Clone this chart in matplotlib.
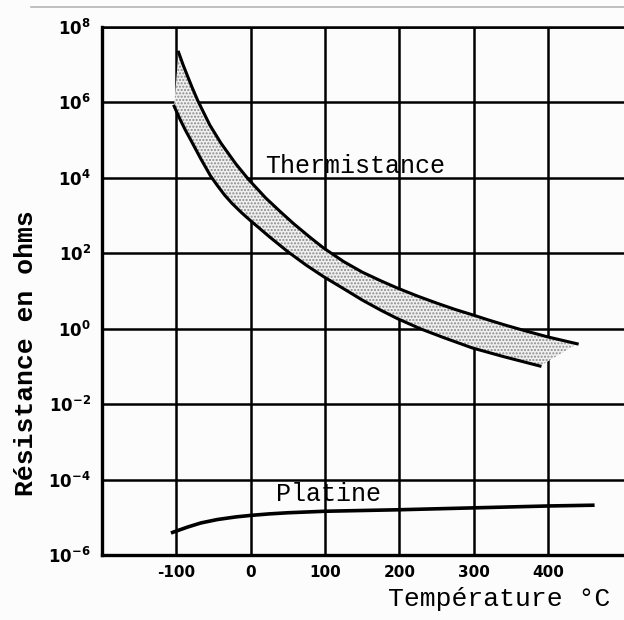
import numpy as np
import matplotlib.pyplot as plt
from matplotlib.lines import Line2D

# thermistance: bord haut et bord bas de la bande (T en degC, log10 de R en ohms)
therm_haut_T = [-97, -91, -85, -78, -71, -55, -40, -20, -3, 20, 40, 58, 80, 98,
                125, 150, 175, 197, 225, 250, 275, 298, 320, 345, 370, 400, 439]
therm_haut_logR = [7.33, 7.0, 6.7, 6.36, 6.04, 5.4, 4.92, 4.37, 3.96, 3.47, 3.1, 2.78, 2.42, 2.14,
                   1.78, 1.5, 1.27, 1.08, 0.86, 0.68, 0.51, 0.37, 0.23, 0.08, -0.06, -0.22, -0.4]
therm_bas_T = [-103, -95, -88, -80, -67, -54, -45, -35, -25, -12, 0, 25, 50, 75, 98,
               125, 150, 175, 197, 228, 260, 298, 340, 389]
therm_bas_logR = [5.9, 5.55, 5.27, 4.98, 4.5, 4.05, 3.8, 3.54, 3.32, 3.07, 2.86, 2.44, 2.04, 1.68, 1.38,
                  1.06, 0.76, 0.49, 0.27, 0.0, -0.24, -0.51, -0.74, -0.99]

# platine
platine_T = [-105, -85, -67, -45, -20, 0, 25, 50, 100, 200, 300, 400, 460]
platine_logR = [-5.4, -5.26, -5.15, -5.06, -4.99, -4.95, -4.91, -4.88, -4.84, -4.8, -4.75, -4.7, -4.68]

xticks = [-100, 0, 100, 200, 300, 400]
y_exps = [8, 6, 4, 2, 0, -2, -4, -6]

mono = 'Liberation Mono'

fig = plt.figure(figsize=(6.24, 6.2), dpi=100)
fig.patch.set_facecolor('#fcfcfc')
ax = fig.add_axes([102/624, 1-555/620, 1-102/624, (555-27)/620])
ax.set_facecolor('#fcfcfc')

th_T = np.array(therm_haut_T)
th_R = 10.0**np.array(therm_haut_logR)
tb_T = np.array(therm_bas_T)
tb_R = 10.0**np.array(therm_bas_logR)
pl_T = np.array(platine_T)
pl_R = 10.0**np.array(platine_logR)

# bande pointillee entre les deux courbes
plt.rcParams['hatch.color'] = '#8a8a8a'
plt.rcParams['hatch.linewidth'] = 1.0
ax.fill(np.r_[th_T, tb_T[::-1]], np.r_[th_R, tb_R[::-1]],
        facecolor='#f0f0f0', edgecolor='#8a8a8a', hatch='.....', linewidth=0, zorder=2)

ax.plot(th_T, th_R, color='black', lw=2.2, zorder=4, solid_joinstyle='round')
ax.plot(tb_T, tb_R, color='black', lw=2.2, zorder=4, solid_joinstyle='round')
ax.plot(pl_T, pl_R, color='black', lw=2.6, zorder=4, solid_joinstyle='round')

ax.set_yscale('log')
ax.set_xlim(-200, 502)
ax.set_ylim(1e-6, 1e8)
ax.set_xticks(xticks)
ax.set_xticklabels([str(t) for t in xticks], fontsize=11, fontweight='bold')
ax.set_yticks([10.0**e for e in y_exps])
ax.set_yticklabels([r'$\mathbf{10^{%d}}$' % e for e in y_exps], fontsize=12)
ax.yaxis.set_minor_locator(plt.NullLocator())
ax.tick_params(length=0, pad=7)
ax.tick_params(axis='y', pad=8)

ax.grid(True, which='major', color='black', lw=1.8, zorder=1)
ax.set_axisbelow(True)
for s in ['left', 'bottom']:
    ax.spines[s].set_linewidth(2.4)
ax.spines['top'].set_linewidth(1.8)
ax.spines['right'].set_visible(False)

ax.text(141, 10**4.13, 'Thermistance', family=mono, fontsize=18,
        ha='center', va='baseline', zorder=5)
ax.text(105, 10**-4.58, 'Platine', family=mono, fontsize=18,
        ha='center', va='baseline', zorder=5)

fig.text(0.978, 1-606/620, 'Température °C', family=mono, fontsize=19,
         ha='right', va='baseline')
fig.text(0.042, 1-353/620, 'Résistance en ohms', family=mono, fontsize=19,
         fontweight='bold', rotation=90, ha='center', va='center')

# trait du bord de la photocopie
fig.add_artist(Line2D([0.05, 1.0], [1-7/620, 1-7/620], color='#b5b5b5', lw=1.2))

fig.savefig('out.png', dpi=100, facecolor=fig.get_facecolor())
